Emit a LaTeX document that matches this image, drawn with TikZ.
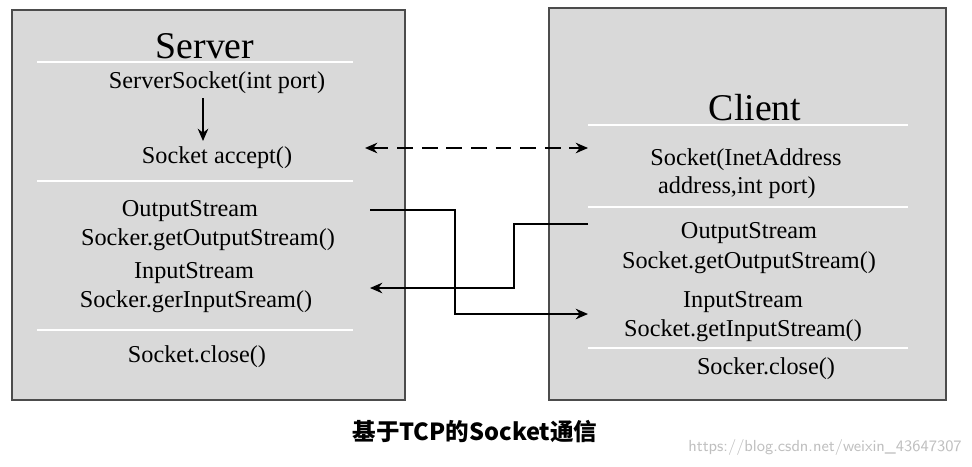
\documentclass[tikz,border=0pt]{standalone}
\usepackage{fontspec}
\setmainfont{Liberation Serif}
\newfontfamily\cjk{Noto Sans CJK SC}
\usetikzlibrary{arrows.meta}
\tikzset{
  panel/.style = {draw=black!70, fill=black!15, line width=0.6pt},
  sep/.style = {draw=white, line width=0.8pt},
  txt/.style = {font=\fontsize{13.8}{15}\selectfont, inner sep=0pt},
  title/.style = {font=\fontsize{21.5}{23}\selectfont, inner sep=0pt},
  link/.style = {-{Stealth[length=7pt,width=6pt]}, line width=1pt}
}
\begin{document}
\begin{tikzpicture}[x=0.02cm, y=-0.02cm]
  \useasboundingbox (0,0) rectangle (972,466);
  % server side
  \draw[panel] (12,10) rectangle (405,400);
  \draw[sep] (37,62) -- (353,62);
  \draw[sep] (37,181) -- (353,181);
  \draw[sep] (37,330) -- (353,330);
  \node[title] (server) at (205,46) {Server};
  \node[txt] (ssock) at (217,83) {ServerSocket(int port)};
  \node[txt] (accept) at (217,158) {Socket accept()};
  \node[txt] (sout) at (190,211) {OutputStream};
  \node[txt] (soutget) at (208,240) {Socker.getOutputStream()};
  \node[txt] (sin) at (194,273) {InputStream};
  \node[txt] (singet) at (196,302) {Socker.gerInputSream()};
  \node[txt] (sclose) at (197,357) {Socket.close()};
  % client side
  \draw[panel] (549,8) rectangle (946,400);
  \draw[sep] (588,125) -- (908,125);
  \draw[sep] (588,207) -- (908,207);
  \draw[sep] (588,348) -- (908,348);
  \node[title] (client) at (755,108) {Client};
  \node[txt] (csock) at (746,160) {Socket(InetAddress};
  \node[txt] (caddr) at (737,188) {address,int port)};
  \node[txt] (cout) at (749,233) {OutputStream};
  \node[txt] (coutget) at (749,263) {Socket.getOutputStream()};
  \node[txt] (cin) at (743,302) {InputStream};
  \node[txt] (cinget) at (743,331) {Socket.getInputStream()};
  \node[txt] (cclose) at (766,369) {Socker.close()};
  % connectors
  \coordinate (p1) at (365,148);
  \coordinate (p2) at (588,148);
  \coordinate (p3) at (370,210);
  \coordinate (p4) at (588,314);
  \coordinate (p5) at (588,224);
  \coordinate (p6) at (370,288);
  \coordinate (q1) at (203,98);
  \coordinate (q2) at (203,141);
  \draw[link] (q1) -- (q2);
  \draw[link, {Stealth[length=7pt,width=6pt]}-{Stealth[length=7pt,width=6pt]}, dash pattern=on 9pt off 5pt] (p1) -- (p2);
  \draw[link] (p3) -- (455,210) -- (455,314) -- (p4);
  \draw[link] (p5) -- (514,224) -- (514,288) -- (p6);
  % caption
  \node[font=\cjk\bfseries\fontsize{13.4}{15}\selectfont] (cap) at (475,432) {基于TCP的Socket通信};
  \node[font=\sffamily\fontsize{9.1}{11}\selectfont, text=black!25] (mark) at (825,447) {https://blog.csdn.net/weixin\_43647307};
\end{tikzpicture}
\end{document}
